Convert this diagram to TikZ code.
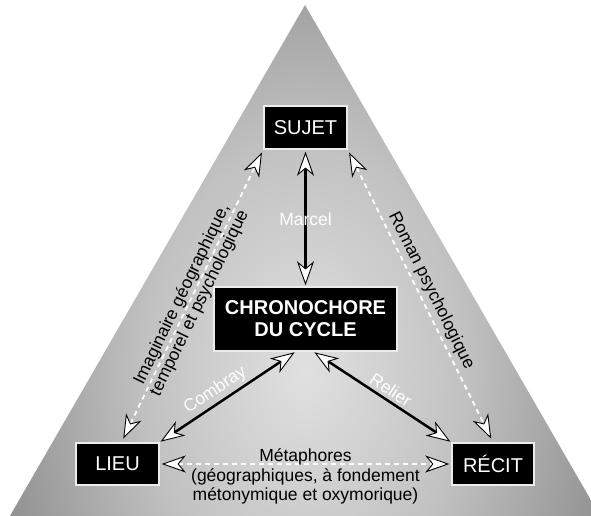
\documentclass[tikz,border=0pt]{standalone}
\usepackage{fontspec}
\setmainfont{Liberation Sans}
\usetikzlibrary{arrows.meta,calc}

% soft light spot in the lower middle of the triangle, darkening outwards
\pgfdeclareradialshading{paneshade}{\pgfpointorigin}{%
  gray(0bp)=(0.88); gray(12bp)=(0.76); gray(25bp)=(0.55);
  gray(38bp)=(0.34); gray(46bp)=(0.22); gray(50bp)=(0.17)}

\tikzset{
  termbox/.style={draw=gray!15, line width=1.5pt, fill=black, text=white,
    inner sep=0pt, font=\fontsize{20}{22}\selectfont},
  linktip/.tip={Stealth[length=24pt, width=17pt, inset=7pt, color=black,
    fill=white, line width=0.9pt]},
  solidlink/.style={draw=black, line width=2.5pt, {linktip}-{linktip}},
  dashlink/.style={draw=white, line width=1.8pt, dash pattern=on 5pt off 4pt,
    {linktip}-{linktip}},
  lbl/.style={font=\fontsize{17.5}{19.5}\selectfont, inner sep=3pt}
}

\begin{document}
\begin{tikzpicture}[x=1pt,y=-1pt]
  \clip (0,0) rectangle (591,516);
  \fill[white] (0,0) rectangle (591,516);

  % shaded triangle
  \begin{scope}
    \clip (305,5) -- (602.4,520) -- (7.6,520) -- cycle;
    \shade[shading=paneshade] (-25,-100) rectangle (635,840);
  \end{scope}

  % terms
  \node[termbox, minimum width=83pt, minimum height=43pt] (sujet) at (305.5,127.5) {SUJET};
  \node[termbox, font=\fontsize{20}{22}\selectfont\bfseries, align=center,
        minimum width=183pt, minimum height=64pt] (chrono) at (305.5,319) {CHRONOCHORE\\DU CYCLE};
  \node[termbox, minimum width=83pt, minimum height=42pt] (lieu) at (117.5,464) {LIEU};
  \node[termbox, minimum width=82pt, minimum height=42pt] (recit) at (493,464) {RÉCIT};

  % links through the centre
  \draw[solidlink, shorten <=2pt, shorten >=1pt] (sujet.south) -- (chrono.north)
    node[pos=0.51, lbl, text=white] {Marcel};
  \draw[solidlink, shorten <=1pt, shorten >=1pt] (lieu.north east) -- ([xshift=-10pt]chrono.south)
    node[pos=0.46, sloped, above, lbl, text=white] {Combray};
  \draw[solidlink, shorten <=1pt, shorten >=1pt] ([xshift=8pt]chrono.south) -- (recit.north west)
    node[pos=0.52, sloped, above, lbl, text=white] {Relier};

  % links along the sides
  \draw[dashlink, shorten <=4pt, shorten >=3pt] ([xshift=4pt]lieu.north) -- (sujet.south west)
    node[pos=0.49, sloped, lbl, align=center, text=black] {Imaginaire géographique,\\temporel et psychologique};
  \draw[dashlink, shorten <=3pt, shorten >=4pt] (sujet.south east) -- (recit.north)
    node[pos=0.5, sloped, above, lbl, text=black] {Roman psychologique};
  \draw[dashlink, shorten <=2pt, shorten >=2pt] (lieu.east) -- (recit.west)
    node[midway, yshift=-12.5pt, lbl, align=center, text=black]
    {Métaphores\\(géographiques, à fondement\\métonymique et oxymorique)};
\end{tikzpicture}
\end{document}
